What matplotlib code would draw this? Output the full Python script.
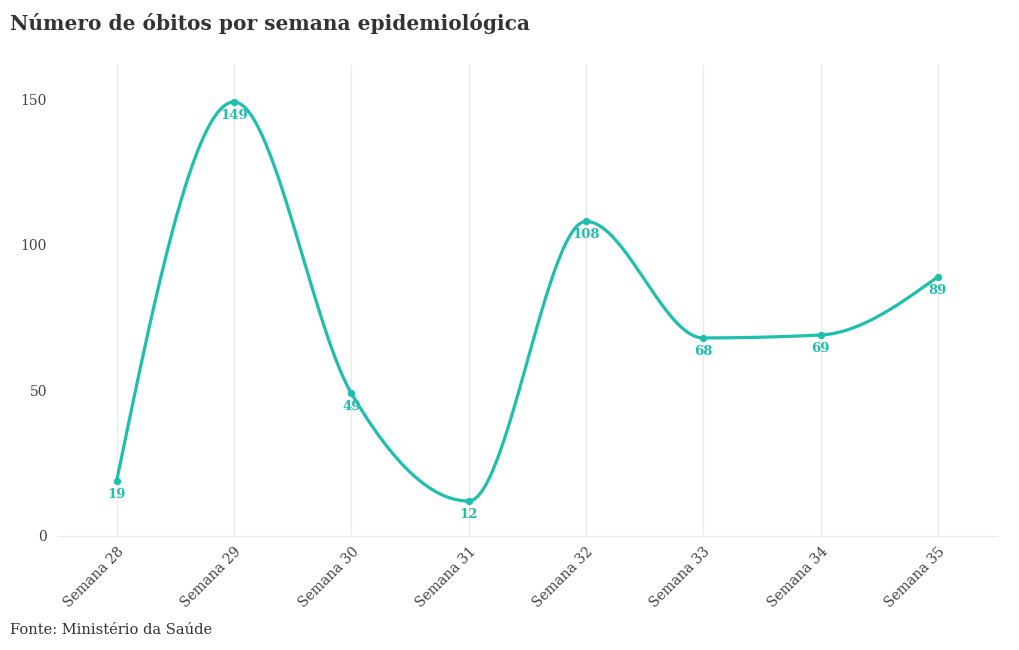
import numpy as np
import matplotlib
matplotlib.use("Agg")
import matplotlib.pyplot as plt

categories = ["Semana 28", "Semana 29", "Semana 30", "Semana 31",
              "Semana 32", "Semana 33", "Semana 34", "Semana 35"]
obitos = [19, 149, 49, 12, 108, 68, 69, 89]
yticks = [0, 50, 100, 150]

color = "#1fbfad"
txt = "#444444"
plt.rcParams['font.family'] = ['DejaVu Serif']


def monotone_curve(xs, ys, n=60):
    """d3.curveMonotoneX rendering of the polyline through (xs, ys)."""
    xs = np.asarray(xs, float)
    ys = np.asarray(ys, float)
    m = len(xs)
    t = np.zeros(m)
    for i in range(1, m - 1):
        h0 = xs[i] - xs[i - 1]
        h1 = xs[i + 1] - xs[i]
        s0 = (ys[i] - ys[i - 1]) / h0
        s1 = (ys[i + 1] - ys[i]) / h1
        p = (s0 * h1 + s1 * h0) / (h0 + h1)
        t[i] = (np.sign(s0) + np.sign(s1)) * min(abs(s0), abs(s1), 0.5 * abs(p))
    h = xs[1] - xs[0]
    t[0] = (3 * (ys[1] - ys[0]) / h - t[1]) / 2
    h = xs[-1] - xs[-2]
    t[-1] = (3 * (ys[-1] - ys[-2]) / h - t[-2]) / 2
    s = np.linspace(0, 1, n)
    cx, cy = [], []
    for i in range(m - 1):
        dx = (xs[i + 1] - xs[i]) / 3
        P = [(xs[i], ys[i]), (xs[i] + dx, ys[i] + dx * t[i]),
             (xs[i + 1] - dx, ys[i + 1] - dx * t[i + 1]), (xs[i + 1], ys[i + 1])]
        b = [(1 - s) ** 3, 3 * (1 - s) ** 2 * s, 3 * (1 - s) * s ** 2, s ** 3]
        cx.append(sum(bk * pk[0] for bk, pk in zip(b, P)))
        cy.append(sum(bk * pk[1] for bk, pk in zip(b, P)))
    return np.concatenate(cx), np.concatenate(cy)


fig = plt.figure(figsize=(10.2, 6.5), dpi=100)
ax = fig.add_axes([0.0569, 0.1754, 0.977 - 0.0569, 0.9 - 0.1754])
x = np.arange(len(categories))
ax.set_xlim(-0.5, 7.5)
ax.set_ylim(0, 161.7)

cx, cy = monotone_curve(x, obitos)
ax.plot(cx, cy, color=color, lw=2.3, solid_capstyle='round', zorder=3)
ax.scatter(x, obitos, s=28, color=color, zorder=4, linewidths=0)
for xi, v in zip(x, obitos):
    ax.annotate(str(v), (xi, v), xytext=(0, -5), textcoords='offset points',
                ha='center', va='top', color=color, fontsize=9.5, fontweight='bold', zorder=5)

ax.set_xticks(x)
ax.set_xticklabels(categories, rotation=45, ha='right', rotation_mode='anchor',
                   fontsize=10, color=txt)
ax.set_yticks(yticks)
ax.set_yticklabels([str(t) for t in yticks], fontsize=10, color=txt)
ax.tick_params(axis='y', length=0, pad=8)
ax.tick_params(axis='x', length=0, pad=6)
ax.grid(axis='x', color='#ebebeb', lw=1)
for sp in ['top', 'right', 'left']:
    ax.spines[sp].set_visible(False)
ax.spines['bottom'].set_color('#ebebeb')

fig.text(10 / 1020, 1 - 24 / 650, "Número de óbitos por semana epidemiológica",
         fontsize=14.5, fontweight='bold', color='#333333', va='center', ha='left')
fig.text(10 / 1020, 1 - 630 / 650, "Fonte: Ministério da Saúde",
         fontsize=10.5, color='#333333', va='center', ha='left')
fig.savefig("out.png", dpi=100)
